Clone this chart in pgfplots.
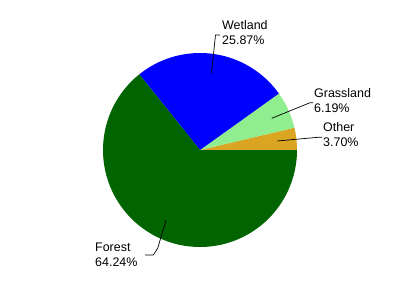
\documentclass[border=0pt]{standalone}
\usepackage{pgfplots}
\pgfplotsset{compat=1.18}
\usepackage{fontspec}
\setmainfont{Liberation Sans}
\definecolor{cOther}{HTML}{DAA520}
\definecolor{cGrass}{HTML}{90EE90}
\definecolor{cWet}{HTML}{0000FF}
\definecolor{cForest}{HTML}{006400}
% shares (percent)
\def\pOther{3.70}
\def\pGrass{6.19}
\def\pWet{25.87}
\def\pForest{64.24}
\pgfmathsetmacro\aA{0}
\pgfmathsetmacro\aB{\aA+3.6*\pOther}
\pgfmathsetmacro\aC{\aB+3.6*\pGrass}
\pgfmathsetmacro\aD{\aC+3.6*\pWet}
\pgfmathsetmacro\aE{\aD+3.6*\pForest}
\begin{document}
\begin{tikzpicture}
\begin{axis}[
  width=400bp, height=300bp, scale only axis,
  xmin=0, xmax=400, ymin=0, ymax=300, y dir=reverse,
  hide axis, clip=false,
  every axis plot/.append style={line join=round},
]
\path (rel axis cs:0,0) rectangle (rel axis cs:1,1);
\addplot[fill=cOther, draw=none, domain=\aA:\aB, samples=20, variable=\t]
  ({200+97*cos(\t)},{150-97*sin(\t)}) -- (axis cs:200,150) -- cycle;
\addplot[fill=cGrass, draw=none, domain=\aB:\aC, samples=20, variable=\t]
  ({200+97*cos(\t)},{150-97*sin(\t)}) -- (axis cs:200,150) -- cycle;
\addplot[fill=cWet, draw=none, domain=\aC:\aD, samples=60, variable=\t]
  ({200+97*cos(\t)},{150-97*sin(\t)}) -- (axis cs:200,150) -- cycle;
\addplot[fill=cForest, draw=none, domain=\aD:\aE, samples=120, variable=\t]
  ({200+97*cos(\t)},{150-97*sin(\t)}) -- (axis cs:200,150) -- cycle;
% leader lines
\addplot[black, line width=0.7bp] coordinates {(211.5,73) (215.5,35) (220,35)};
\addplot[black, line width=0.7bp] coordinates {(271.7,118.3) (310,102.7) (313,102.7)};
\addplot[black, line width=0.7bp] coordinates {(277.3,141) (318,137.3) (322,137.3)};
\addplot[black, line width=0.7bp] coordinates {(166,220) (157.7,248.3) (153.3,255) (145,255)};
% labels
\node[anchor=west, align=left, inner sep=0pt, font=\fontsize{12.5}{15}\selectfont] at (axis cs:222,33) {Wetland\\25.87\%};
\node[anchor=west, align=left, inner sep=0pt, font=\fontsize{12.5}{15}\selectfont] at (axis cs:314,101) {Grassland\\6.19\%};
\node[anchor=west, align=left, inner sep=0pt, font=\fontsize{12.5}{15}\selectfont] at (axis cs:323,135) {Other\\3.70\%};
\node[anchor=west, align=left, inner sep=0pt, font=\fontsize{12.5}{15}\selectfont] at (axis cs:95,254.5) {Forest\\64.24\%};
\end{axis}
\end{tikzpicture}
\end{document}
